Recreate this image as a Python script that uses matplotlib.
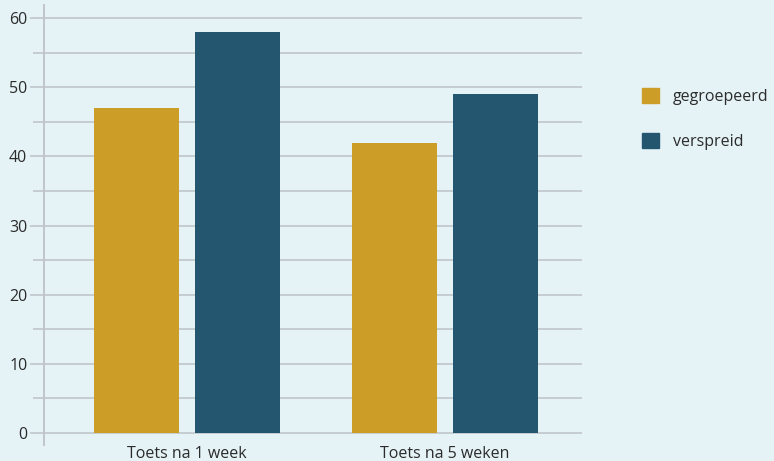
import matplotlib.pyplot as plt
import numpy as np
from matplotlib.patches import Patch

categories = ['Toets na 1 week', 'Toets na 5 weken']
series_names = ['gegroepeerd', 'verspreid']
gegroepeerd = [47, 42]
verspreid = [58, 49]
yticks = [0, 10, 20, 30, 40, 50, 60]

bg = '#e5f3f7'
gold = '#cc9e28'
blue = '#24566f'
grid = '#bdc2c5'
text = '#2b2b2b'

plt.rcParams['font.family'] = ['Open Sans', 'DejaVu Sans']

fig = plt.figure(figsize=(7.74, 4.61), dpi=100, facecolor=bg)
ax = fig.add_axes([44 / 774, 16 / 461, 538 / 774, 440 / 461], facecolor=bg)

x = np.arange(len(categories))
w = 0.329
off = 0.196
ax.bar(x - off, gegroepeerd, w, color=gold, zorder=3, label=series_names[0])
ax.bar(x + off, verspreid, w, color=blue, zorder=3, label=series_names[1])

ax.set_xlim(-0.554, 1.531)
ax.set_ylim(-1.75, 61.9)

# gridlines every 5, labels every 10
ax.set_yticks(yticks)
ax.set_yticks(np.arange(5, 60, 10), minor=True)
ax.grid(axis='y', which='both', color=grid, linewidth=1.1, zorder=0)
ax.tick_params(axis='y', which='major', length=10, width=1.1, color=grid,
               labelsize=11.5, labelcolor=text, pad=2)
ax.tick_params(axis='y', which='minor', length=8, width=1.1, color=grid)

ax.set_xticks(x)
ax.set_xticklabels(categories)
ax.tick_params(axis='x', length=0, labelsize=11.5, labelcolor=text, pad=1)

for s in ['top', 'right', 'bottom']:
    ax.spines[s].set_visible(False)
ax.spines['left'].set_color(grid)
ax.spines['left'].set_linewidth(1.3)

handles = [Patch(color=gold), Patch(color=blue)]
fig.legend(handles, series_names, loc='upper left',
           bbox_to_anchor=(628 / 774, 1 - 74 / 461), frameon=False,
           handlelength=1.05, handleheight=1.05, handletextpad=0.85,
           labelspacing=1.75, fontsize=11.5, labelcolor=text)

fig.savefig('out.png', dpi=100, facecolor=bg)
